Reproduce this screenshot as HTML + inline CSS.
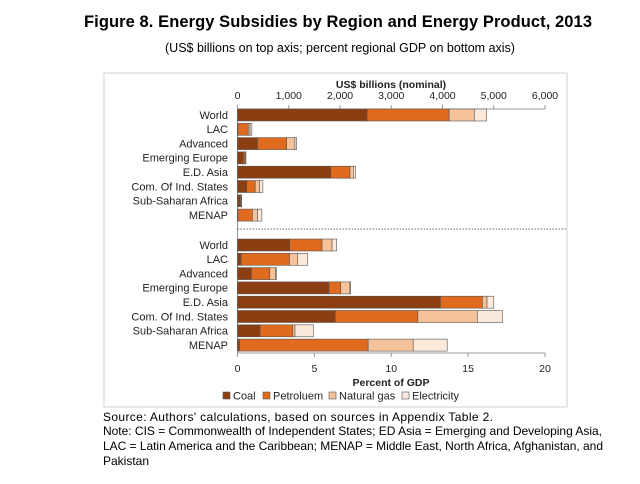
<!DOCTYPE html>
<html><head><meta charset="utf-8"><style>
body{margin:0;background:#fff;width:640px;height:484px;overflow:hidden}
svg{display:block}
</style></head><body>
<svg id="chart" width="640" height="484" xmlns="http://www.w3.org/2000/svg" font-family="Liberation Sans, sans-serif">
<text x="338" y="27" text-anchor="middle" font-size="16.5" font-weight="bold" fill="#000" textLength="508">Figure 8. Energy Subsidies by Region and Energy Product, 2013</text>
<text x="340" y="52" text-anchor="middle" font-size="12.5" fill="#000">(US$ billions on top axis; percent regional GDP on bottom axis)</text>
<rect x="104" y="73" width="463" height="334" fill="none" stroke="#d0d0d0"/>
<g id="plot" font-size="10.5" fill="#222"></g>
<text x="103" y="421" font-size="12" textLength="390">Source: Authors' calculations, based on sources in Appendix Table 2.</text>
<text x="103" y="435" font-size="12" textLength="499">Note: CIS = Commonwealth of Independent States; ED Asia = Emerging and Developing Asia,</text>
<text x="103" y="450" font-size="12" textLength="500">LAC = Latin America and the Caribbean; MENAP = Middle East, North Africa, Afghanistan, and</text>
<text x="103" y="465" font-size="12">Pakistan</text>
</svg>
<script>
const regions=["World","LAC","Advanced","Emerging Europe","E.D. Asia","Com. Of Ind. States","Sub-Saharan Africa","MENAP"];
const series=["Coal","Petroluem","Natural gas","Electricity"];
const usdCoal=[2530,10,390,115,1820,180,50,10];
const usdPetrol=[1600,200,570,30,375,165,20,280];
const usdGas=[490,35,160,15,65,85,5,100];
const usdElec=[240,35,35,5,45,65,5,85];
const gdpCoal=[3.4,0.24,0.9,5.95,13.2,6.36,1.47,0.13];
const gdpPetrol=[2.1,3.14,1.2,0.76,2.73,5.37,2.13,8.37];
const gdpGas=[0.65,0.54,0.37,0.6,0.3,3.87,0.14,2.93];
const gdpElec=[0.3,0.65,0.06,0.05,0.44,1.63,1.19,2.21];
const topTicks=[0,1000,2000,3000,4000,5000,6000];
const bottomTicks=[0,5,10,15,20];
const colors=["#8B3E12","#E06A1E","#F5C29A","#FBE9DC"];
const NS="http://www.w3.org/2000/svg";
const g=document.getElementById("plot");
const X0=237.5,X1=545;
const xTop=v=>X0+v/6000*(X1-X0);
const xBot=v=>X0+v/20*(X1-X0);
function mk(tag,a,parent){const e=document.createElementNS(NS,tag);for(const k in a)e.setAttribute(k,a[k]);(parent||g).appendChild(e);return e;}
let e=mk("line",{x1:X0,y1:109,x2:X1,y2:109,stroke:"#999"});


e=mk("line",{x1:X0,y1:353,x2:X1,y2:353,stroke:"#999"});


e=mk("line",{x1:X0,y1:109,x2:X0,y2:353,stroke:"#999"});


e=mk("line",{x1:X0,y1:229,x2:566,y2:229,stroke:"#666","stroke-dasharray":"1.5,1.5"});


topTicks.forEach(t=>{
  const x=xTop(t);
  mk("line",{x1:x,y1:105,x2:x,y2:109,stroke:"#999"});
  const tx=mk("text",{x:x,y:99,"text-anchor":"middle"});
  tx.textContent=t.toLocaleString("en-US");
  
  
});
bottomTicks.forEach(t=>{
  const x=xBot(t);
  mk("line",{x1:x,y1:353,x2:x,y2:357,stroke:"#999"});
  const tx=mk("text",{x:x,y:372,"text-anchor":"middle"});
  tx.textContent=t;
  
  
});
e=mk("text",{x:391,y:88,"text-anchor":"middle","font-weight":"bold"});
e.textContent="US$ billions (nominal)";


e=mk("text",{x:391,y:386,"text-anchor":"middle","font-weight":"bold"});
e.textContent="Percent of GDP";


function panel(data,xf,y0,tag){
  regions.forEach((r,i)=>{
    const yc=y0+i*14.3;
    const lb=mk("text",{x:228,y:yc+3.8,"text-anchor":"end","font-size":"11"});
    lb.textContent=r;
    
    
    let acc=0;
    data.forEach((arr,s)=>{
      const a=xf(acc),b=xf(acc+arr[i]);acc+=arr[i];
      const rc=mk("rect",{x:a,y:yc-6,width:Math.max(0,b-a),height:12,fill:colors[s],stroke:"#555","stroke-width":0.6});
      
      
    });
  });
}
panel([usdCoal,usdPetrol,usdGas,usdElec],xTop,115,'usd');
panel([gdpCoal,gdpPetrol,gdpGas,gdpElec],xBot,245,'gdp');
const lx=[223,263,329,402];
series.forEach((s,i)=>{
  const r=mk("rect",{x:lx[i],y:392,width:7,height:7,fill:colors[i],stroke:"#555","stroke-width":0.6});
  
  
  const t=mk("text",{x:lx[i]+10,y:399.5,"font-size":"11"});
  t.textContent=s;
  
  
});
</script>
</body></html>
